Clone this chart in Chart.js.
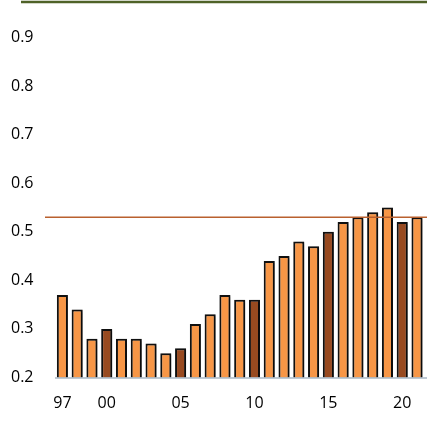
<!DOCTYPE html>
<html>
<head>
<meta charset="utf-8">
<script src="https://cdn.jsdelivr.net/npm/chart.js@4/dist/chart.umd.min.js"></script>
<style>
  html, body { margin: 0; padding: 0; background: #ffffff; overflow: hidden; }
  #wrap { position: relative; width: 433px; height: 422px; }
</style>
</head>
<body>
<div id="wrap"><canvas id="c" width="433" height="422"></canvas></div>
<script>
// Yearly values, 1997-2021
const years = ['97','98','99','00','01','02','03','04','05','06','07','08','09',
               '10','11','12','13','14','15','16','17','18','19','20','21'];
const values = [0.37, 0.34, 0.28, 0.30, 0.28, 0.28, 0.27, 0.25, 0.26, 0.31, 0.33, 0.37, 0.36,
                0.36, 0.44, 0.45, 0.48, 0.47, 0.50, 0.52, 0.53, 0.54, 0.55, 0.52, 0.53];
// Years drawn in the darker shade
const highlightYears = ['00', '05', '10', '15', '20'];
// Years that carry an axis label
const xTickLabels = ['97', '00', '05', '10', '15', '20'];
const yTicks = [0.2, 0.3, 0.4, 0.5, 0.6, 0.7, 0.8, 0.9];
// Horizontal reference level
const referenceLevel = 0.53;

const ORANGE = '#F79646';
const BROWN = '#984A20';

const barShadow = {
  id: 'barShadow',
  beforeDatasetsDraw(chart) {
    const ctx = chart.ctx;
    ctx.save();
    ctx.shadowColor = 'rgba(0,0,0,0.4)';
    ctx.shadowBlur = 3;
    ctx.shadowOffsetX = 2;
    ctx.shadowOffsetY = 1;
  },
  afterDatasetsDraw(chart) {
    chart.ctx.restore();
  }
};

const decorations = {
  id: 'decorations',
  afterDatasetsDraw(chart) {
    const ctx = chart.ctx;
    const area = chart.chartArea;
    const y = chart.scales.y.getPixelForValue(referenceLevel);
    ctx.save();
    // baseline
    ctx.strokeStyle = '#A9B7C6';
    ctx.lineWidth = 1.5;
    ctx.beginPath();
    ctx.moveTo(area.left, area.bottom + 0.5);
    ctx.lineTo(chart.width, area.bottom + 0.5);
    ctx.stroke();
    // reference level
    ctx.strokeStyle = '#B9602E';
    ctx.lineWidth = 1.5;
    ctx.beginPath();
    ctx.moveTo(area.left - 10, y);
    ctx.lineTo(chart.width, y);
    ctx.stroke();
    // header rule
    ctx.strokeStyle = '#4F6228';
    ctx.lineWidth = 2.4;
    ctx.beginPath();
    ctx.moveTo(21, 2);
    ctx.lineTo(chart.width, 2);
    ctx.stroke();
    ctx.restore();
  }
};

new Chart(document.getElementById('c'), {
  type: 'bar',
  data: {
    labels: years,
    datasets: [{
      data: values,
      backgroundColor: years.map(y => highlightYears.includes(y) ? BROWN : ORANGE),
      borderColor: '#111111',
      borderWidth: 2,
      borderSkipped: false,
      barPercentage: 0.75,
      categoryPercentage: 1.0
    }]
  },
  options: {
    responsive: false,
    animation: false,
    events: [],
    layout: { padding: { left: 11, right: 0, top: 37.5, bottom: 0 } },
    plugins: { legend: { display: false }, tooltip: { enabled: false } },
    scales: {
      x: {
        grid: { display: false, drawTicks: false },
        border: { display: false },
        ticks: {
          autoSkip: false,
          maxRotation: 0,
          padding: 16,
          color: '#000000',
          font: { family: 'Open Sans', size: 16 },
          callback(value, index) {
            const lab = years[index];
            return xTickLabels.includes(lab) ? lab : '';
          }
        },
        afterFit(scale) { scale.height = 44.5; }
      },
      y: {
        min: yTicks[0],
        max: yTicks[yTicks.length - 1],
        grid: { display: false, drawTicks: false },
        border: { display: false },
        afterBuildTicks(scale) { scale.ticks = yTicks.map(v => ({ value: v })); },
        ticks: {
          crossAlign: 'far',
          padding: 0,
          color: '#000000',
          font: { family: 'Open Sans', size: 16 },
          callback: v => v.toFixed(1)
        },
        afterFit(scale) { scale.width = 44; }
      }
    }
  },
  plugins: [barShadow, decorations]
});
</script>
</body>
</html>
